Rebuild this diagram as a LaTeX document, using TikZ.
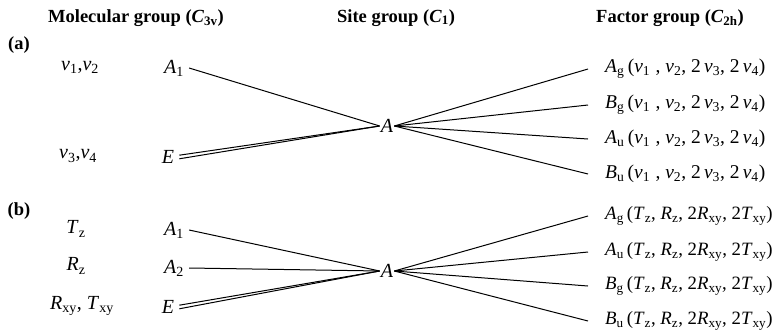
\documentclass[tikz,border=0pt]{standalone}
\usepackage{fontspec}
\setmainfont{Liberation Serif}
\newcommand\itl[1]{\textit{#1}}
\newcommand\ssub[2]{\textit{#1}\textsubscript{#2}}
\newcommand\nuu[1]{\textit{ν}\textsubscript{#1}}
\newcommand\nulist{(\nuu{1}\;, \nuu{2}, 2\,\nuu{3}, 2\,\nuu{4})}
\newcommand\rtlist{(\ssub{T}{z}, \ssub{R}{z}, 2\ssub{R}{xy}, 2\ssub{T}{xy})}
\begin{document}
\begin{tikzpicture}[x=1pt,y=-1pt,
  every node/.style={inner sep=1pt, font=\fontsize{20}{22}\selectfont},
  head/.style={font=\fontsize{18.5}{22}\selectfont\bfseries},
  irrep/.style={anchor=west, font=\fontsize{19.5}{22}\selectfont},
  irrepb/.style={anchor=west, font=\fontsize{18.8}{22}\selectfont},
  corr/.style={line width=1pt}]
\useasboundingbox (0,0) rectangle (779,333);

% column headings
\node[head] (h1) at (136,18) {Molecular group (\textit{C}\textsubscript{3v})};
\node[head] (h2) at (396,18) {Site group (\textit{C}\textsubscript{1})};
\node[head] (h3) at (670,18) {Factor group (\textit{C}\textsubscript{2h})};

% ---------- (a) internal vibrations ----------
\node[head] (la) at (19,45) {(a)};
\node (va) at (80,67) {\nuu{1},\nuu{2}};
\node (vb) at (78,156) {\nuu{3},\nuu{4}};
\node (aA1) at (174,68) {\ssub{A}{1}};
\node (aE)  at (168,157) {\itl{E}};
\node (aS)  at (387,126) {\itl{A}};
\node[irrep] (aAg) at (604,69)  {\ssub{A}{g}\,\nulist};
\node[irrep] (aBg) at (604,105) {\ssub{B}{g}\,\nulist};
\node[irrep] (aAu) at (604,139) {\ssub{A}{u}\,\nulist};
\node[irrep] (aBu) at (604,174) {\ssub{B}{u}\,\nulist};

\coordinate (aE1) at ([yshift=-1.8pt]aE.east);
\coordinate (aE2) at ([yshift=1.8pt]aE.east);
\draw[corr] ([xshift=4pt]aA1.east) -- (aS.west);
\draw[corr] ([xshift=4pt]aE1) -- (aS.west);
\draw[corr] ([xshift=4pt]aE2) -- (aS.west);
\foreach \t in {aAg,aBg,aAu,aBu}
  \draw[corr] (aS.east) -- ([xshift=-16pt]\t.west);

% ---------- (b) lattice modes ----------
\node[head] (lb) at (19,211) {(b)};
\node (tz) at (76,229) {\ssub{T}{z}};
\node (rz) at (76,266) {\ssub{R}{z}};
\node (rt) at (82,306) {\ssub{R}{xy}, \ssub{T}{xy}};
\node (bA1) at (174,230) {\ssub{A}{1}};
\node (bA2) at (174,268) {\ssub{A}{2}};
\node (bE)  at (168,307) {\itl{E}};
\node (bS)  at (387,271) {\itl{A}};
\node[irrepb] (bAg) at (604,216) {\ssub{A}{g}\,\rtlist};
\node[irrepb] (bAu) at (604,252) {\ssub{A}{u}\,\rtlist};
\node[irrepb] (bBg) at (604,286) {\ssub{B}{g}\,\rtlist};
\node[irrepb] (bBu) at (604,321) {\ssub{B}{u}\,\rtlist};

\coordinate (bE1) at ([yshift=-1.8pt]bE.east);
\coordinate (bE2) at ([yshift=1.8pt]bE.east);
\draw[corr] ([xshift=4pt]bA1.east) -- (bS.west);
\draw[corr] ([xshift=4pt]bA2.east) -- (bS.west);
\draw[corr] ([xshift=4pt]bE1) -- (bS.west);
\draw[corr] ([xshift=4pt]bE2) -- (bS.west);
\foreach \t in {bAg,bAu,bBg,bBu}
  \draw[corr] (bS.east) -- ([xshift=-16pt]\t.west);
\end{tikzpicture}
\end{document}
